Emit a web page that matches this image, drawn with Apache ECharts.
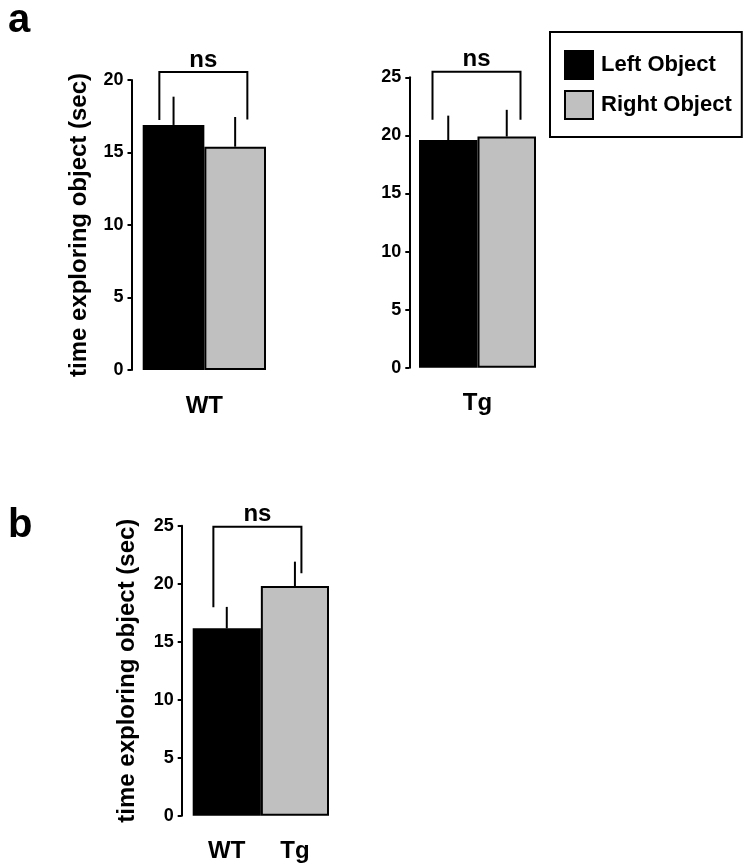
<!DOCTYPE html>
<html>
<head>
<meta charset="utf-8">
<script src="https://cdn.jsdelivr.net/npm/echarts@6/dist/echarts.min.js"></script>
<style>
html,body{margin:0;padding:0;background:#fff;}
#chart{width:749px;height:866px;}
</style>
</head>
<body>
<div id="chart"></div>
<script>
// ---- data ----
const seriesNames = ['Left Object', 'Right Object'];
const panelAWTCategory = ['WT'];
const panelATgCategory = ['Tg'];
const leftObjectMeans = [16.9, 19.6];     // WT, Tg
const leftObjectSEM = [1.95, 2.1];
const rightObjectMeans = [15.4, 19.9];    // WT, Tg
const rightObjectSEM = [2.05, 2.3];
const panelBCategories = ['WT', 'Tg'];
const panelBMeans = [16.15, 19.8];
const panelBSEM = [1.85, 2.1];
const yTicksAWT = [0, 5, 10, 15, 20];
const yTicksATg = [0, 5, 10, 15, 20, 25];
const yTicksB = [0, 5, 10, 15, 20, 25];
// significance brackets: [top, left leg bottom, right leg bottom]
const bracketAWT = [20.55, 17.24, 17.28];
const bracketATg = [25.47, 21.35, 21.35];
const bracketB = [24.9, 17.97, 20.9];
const sigLabel = 'ns';
const yTitle = 'time exploring object (sec)';

// ---- style ----
const FONT = '"Liberation Sans", Arial, Helvetica, sans-serif';
const BLACK = '#000000';
const GREY = '#c0c0c0';

const chart = echarts.init(document.getElementById('chart'), null, {renderer: 'canvas'});

function yAxisCfg(gridIndex, ticks, offset, showName, nameGap) {
  return {
    type: 'value', gridIndex: gridIndex,
    min: ticks[0], max: ticks[ticks.length - 1], interval: ticks[1] - ticks[0],
    offset: offset,
    name: showName ? yTitle : '',
    nameLocation: 'middle', nameGap: nameGap,
    nameTextStyle: {fontFamily: FONT, fontWeight: 'bold', fontSize: 24, color: BLACK},
    axisLine: {show: true, lineStyle: {color: BLACK, width: 2}},
    axisTick: {show: true, length: 4, lineStyle: {color: BLACK, width: 2}},
    axisLabel: {margin: 8, fontFamily: FONT, fontWeight: 'bold', fontSize: 18, color: BLACK},
    splitLine: {show: false}
  };
}
function xAxisCfg(gridIndex, cats) {
  return {
    type: 'category', gridIndex: gridIndex, data: cats,
    axisLine: {show: false}, axisTick: {show: false},
    axisLabel: {margin: 24, fontFamily: FONT, fontWeight: 'bold', fontSize: 24, color: BLACK}
  };
}
function errorSeries(axisIdx, items, halfWidth) {
  return {
    type: 'custom', xAxisIndex: axisIdx, yAxisIndex: axisIdx, z: 5, silent: true,
    data: items,
    renderItem: function (params, api) {
      const base = api.coord([api.value(0), api.value(1)]);
      const top = api.coord([api.value(0), api.value(1) + api.value(2)]);
      const x = base[0] + api.value(3) * halfWidth;
      return {type: 'line', shape: {x1: x, y1: base[1], x2: x, y2: top[1]},
        style: {stroke: BLACK, lineWidth: 2}};
    }
  };
}
function bracketSeries(axisIdx, leftCat, rightCat, br, leftOff, rightOff) {
  return {
    type: 'custom', xAxisIndex: axisIdx, yAxisIndex: axisIdx, z: 6, silent: true,
    clip: false,
    data: [[leftCat, br[0], br[1], br[2], rightCat]],
    renderItem: function (params, api) {
      const tl = api.coord([api.value(0), api.value(1)]);
      const tr = api.coord([api.value(4), api.value(1)]);
      const bl = api.coord([api.value(0), api.value(2)]);
      const brr = api.coord([api.value(4), api.value(3)]);
      const xl = tl[0] + leftOff, xr = tr[0] + rightOff;
      return {type: 'group', children: [
        {type: 'polyline', shape: {points: [[xl, bl[1]], [xl, tl[1]], [xr, tl[1]], [xr, brr[1]]]},
          style: {stroke: BLACK, lineWidth: 2, fill: null}},
        {type: 'text', style: {text: sigLabel, x: (xl + xr) / 2, y: tl[1] - 12,
          align: 'center', verticalAlign: 'middle',
          font: 'bold 24px ' + FONT, fill: BLACK}}
      ]};
    }
  };
}

const barStyle = (c) => ({color: c, borderColor: BLACK, borderWidth: 2});

const option = {
  animation: false,
  backgroundColor: '#ffffff',
  textStyle: {fontFamily: FONT},
  graphic: [
    {type: 'text', left: 8, top: 1, style: {text: 'a', font: 'bold 40px ' + FONT, fill: BLACK}},
    {type: 'text', left: 8, top: 506, style: {text: 'b', font: 'bold 40px ' + FONT, fill: BLACK}}
  ],
  legend: {
    orient: 'vertical', left: 550, top: 32,
    padding: [18, 10, 17, 14],
    itemWidth: 28, itemHeight: 28, itemGap: 10,
    icon: 'rect',
    selectedMode: false,
    borderColor: BLACK, borderWidth: 2,
    itemStyle: {borderColor: BLACK, borderWidth: 2},
    textStyle: {fontFamily: FONT, fontWeight: 'bold', fontSize: 22, color: BLACK, padding: [0, 0, 0, 3]},
    data: seriesNames
  },
  grid: [
    {left: 142.7, top: 80, width: 123.3, height: 290},
    {left: 419, top: 77.3, width: 117, height: 290.4},
    {left: 192.7, top: 525.7, width: 136.3, height: 290}
  ],
  xAxis: [
    xAxisCfg(0, panelAWTCategory),
    xAxisCfg(1, panelATgCategory),
    xAxisCfg(2, panelBCategories)
  ],
  yAxis: [
    yAxisCfg(0, yTicksAWT, 11.2, true, 40),
    yAxisCfg(1, yTicksATg, 9.7, false, 40),
    yAxisCfg(2, yTicksB, 11, true, 42)
  ],
  series: [
    // panel a, WT
    {type: 'bar', name: seriesNames[0], xAxisIndex: 0, yAxisIndex: 0, barWidth: 61.65, barGap: '0%',
      itemStyle: barStyle(BLACK), data: [leftObjectMeans[0]]},
    {type: 'bar', name: seriesNames[1], xAxisIndex: 0, yAxisIndex: 0, barWidth: 61.65, barGap: '0%',
      itemStyle: barStyle(GREY), data: [rightObjectMeans[0]]},
    errorSeries(0, [[0, leftObjectMeans[0], leftObjectSEM[0], -1], [0, rightObjectMeans[0], rightObjectSEM[0], 1]], 30.8),
    bracketSeries(0, 0, 0, bracketAWT, -45, 43),
    // panel a, Tg
    {type: 'bar', name: seriesNames[0], xAxisIndex: 1, yAxisIndex: 1, barWidth: 58.5, barGap: '0%',
      itemStyle: barStyle(BLACK), data: [leftObjectMeans[1]]},
    {type: 'bar', name: seriesNames[1], xAxisIndex: 1, yAxisIndex: 1, barWidth: 58.5, barGap: '0%',
      itemStyle: barStyle(GREY), data: [rightObjectMeans[1]]},
    errorSeries(1, [[0, leftObjectMeans[1], leftObjectSEM[1], -1], [0, rightObjectMeans[1], rightObjectSEM[1], 1]], 29.25),
    bracketSeries(1, 0, 0, bracketATg, -45, 43),
    // panel b
    {type: 'bar', name: 'panelB', xAxisIndex: 2, yAxisIndex: 2, barCategoryGap: '0%',
      data: panelBMeans.map((v, i) => ({value: v, itemStyle: barStyle(i === 0 ? BLACK : GREY)}))},
    errorSeries(2, panelBMeans.map((v, i) => [i, v, panelBSEM[i], 0]), 0),
    bracketSeries(2, 0, 1, bracketB, -13.4, 6.5)
  ]
};
chart.setOption(option);
</script>
</body>
</html>
